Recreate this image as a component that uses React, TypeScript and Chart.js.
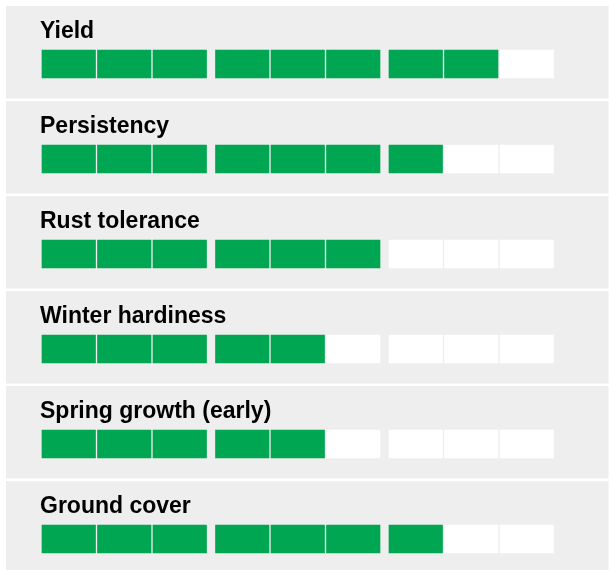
import React, { useEffect, useRef } from "react";
import { Chart, registerables } from "chart.js";

Chart.register(...registerables);

const ROW_LABELS = [
  "Yield",
  "Persistency",
  "Rust tolerance",
  "Winter hardiness",
  "Spring growth (early)",
  "Ground cover",
];
const SCORES = [8, 7, 6, 5, 5, 7];
const CELL_COUNT = 9;
const CELLS_PER_GROUP = 3;

const GREEN = "#00a651";
const EMPTY = "#ffffff";
const PANEL = "#eeeeee";

const CELL_W = 53.5;
const CELL_GAP = 2;
const GROUP_GAP = 9;

function cellStart(k: number) {
  const g = Math.floor(k / CELLS_PER_GROUP);
  return k * (CELL_W + CELL_GAP) + g * (GROUP_GAP - CELL_GAP);
}
const X_MAX = cellStart(CELL_COUNT - 1) + CELL_W;

const panelPlugin = {
  id: "panels",
  beforeDatasetsDraw(chart: any) {
    const { ctx } = chart;
    const y = chart.scales.y;
    ctx.save();
    ctx.fillStyle = PANEL;
    ROW_LABELS.forEach((_, i) => {
      const c = y.getPixelForValue(i);
      ctx.fillRect(6, c - 58, 602.5, 92.5);
    });
    ctx.fillStyle = "#000000";
    ctx.font = "bold 23px 'Liberation Sans', Arial, sans-serif";
    ctx.textAlign = "left";
    ctx.textBaseline = "alphabetic";
    ROW_LABELS.forEach((label, i) => {
      const c = y.getPixelForValue(i);
      ctx.fillText(label, 40, c - 26.5);
    });
    ctx.restore();
  },
};

export default function App() {
  const ref = useRef<HTMLCanvasElement | null>(null);

  useEffect(() => {
    document.body.style.margin = "0";
    const canvas = ref.current;
    if (!canvas) return;
    const datasets = Array.from({ length: CELL_COUNT }, (_, k) => ({
      label: `cell ${k + 1}`,
      data: ROW_LABELS.map(() => [cellStart(k), cellStart(k) + CELL_W]),
      backgroundColor: SCORES.map((s) => (k < s ? GREEN : EMPTY)),
      borderWidth: 0,
      barThickness: 28,
      grouped: false,
      clip: false as any,
    }));
    const chart = new Chart(canvas, {
      type: "bar",
      data: { labels: ROW_LABELS, datasets: datasets as any },
      options: {
        indexAxis: "y",
        responsive: false,
        animation: false,
        devicePixelRatio: 1,
        layout: { padding: { left: 42, right: 609 - 42 - X_MAX, top: 64, bottom: 31 } },
        plugins: { legend: { display: false }, tooltip: { enabled: false } },
        scales: {
          x: { type: "linear", min: 0, max: X_MAX, display: false, grid: { display: false } },
          y: { type: "category", offset: false, display: false, grid: { display: false } },
        },
      },
      plugins: [panelPlugin],
    });
    return () => chart.destroy();
  }, []);

  return (
    <div style={{ width: 609, height: 570 }}>
      <canvas ref={ref} width={609} height={570} style={{ display: "block" }} />
    </div>
  );
}
